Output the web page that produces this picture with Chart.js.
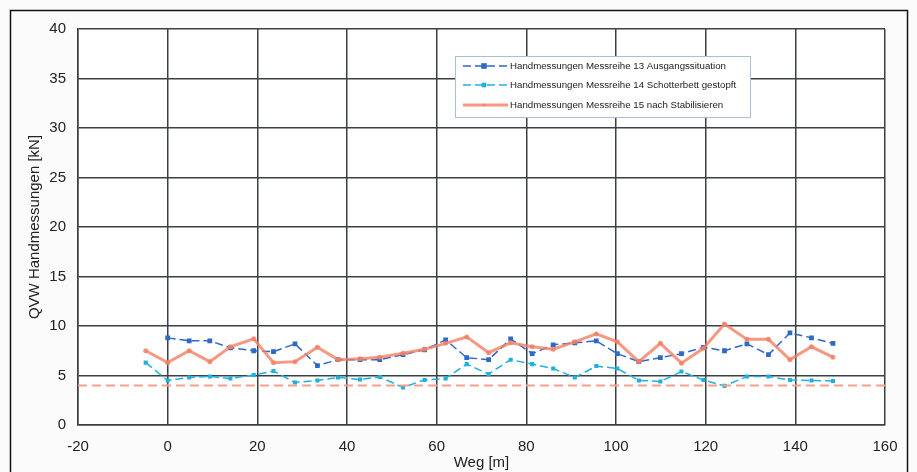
<!DOCTYPE html>
<html>
<head>
<meta charset="utf-8">
<script src="https://cdn.jsdelivr.net/npm/chart.js@4/dist/chart.umd.min.js"></script>
<style>
  html, body { margin: 0; padding: 0; background: #ffffff; }
  #wrap { position: relative; width: 917px; height: 472px; }
</style>
</head>
<body>
<div id="wrap"><canvas id="chart_qvw"></canvas></div>
<script>
// positions along the track (m)
var wegPos = [-4.9, 0, 4.8, 9.4, 14, 19.2, 23.6, 28.4, 33.4, 38, 42.9, 47.3, 52.5, 57.3, 62, 66.7, 71.6,
              76.5, 81.3, 86, 90.8, 95.6, 100.3, 105.1, 109.9, 114.6, 119.5, 124.2, 129.2, 134, 138.8, 143.6, 148.4];

// Messreihe 13 (starts at 0, no value at -4.9)
var reihe13 = [null, 8.8, 8.5, 8.5, 7.8, 7.5, 7.4, 8.2, 6.0, 6.6, 6.6, 6.6, 7.1, 7.6, 8.6, 6.8, 6.6,
               8.7, 7.2, 8.1, 8.3, 8.5, 7.2, 6.4, 6.8, 7.2, 7.85, 7.5, 8.2, 7.1, 9.3, 8.8, 8.25];
// Messreihe 14
var reihe14 = [6.3, 4.5, 4.8, 4.9, 4.7, 5.05, 5.45, 4.3, 4.5, 4.8, 4.6, 4.85, 3.8, 4.55, 4.7, 6.15, 5.15,
               6.6, 6.15, 5.7, 4.8, 5.95, 5.7, 4.5, 4.4, 5.4, 4.55, 3.95, 4.9, 4.9, 4.55, 4.5, 4.45];
// Messreihe 15
var reihe15 = [7.5, 6.3, 7.5, 6.4, 7.9, 8.7, 6.3, 6.4, 7.85, 6.6, 6.7, 6.85, 7.25, 7.65, 8.25, 8.9, 7.3,
               8.3, 7.9, 7.65, 8.4, 9.2, 8.4, 6.4, 8.25, 6.25, 7.75, 10.2, 8.65, 8.65, 6.6, 7.9, 6.85];

// limit line
var grenzX = [-20, 160];
var grenzY = [4, 4];

var legendLabels = [
    'Handmessungen Messreihe 13 Ausgangssituation',
    'Handmessungen Messreihe 14 Schotterbett gestopft',
    'Handmessungen Messreihe 15 nach Stabilisieren'
];

function toPoints(xs, ys) {
    var pts = [];
    for (var i = 0; i < xs.length; i++) {
        if (ys[i] !== null) pts.push({x: xs[i], y: ys[i]});
    }
    return pts;
}

var FONT = '"Liberation Sans", Arial, sans-serif';
var GRID = '#3a4145';

var chart_qvw = new Chart(document.getElementById('chart_qvw'), {
    type: 'line',
    data: {
        datasets: [
            {
                label: 'Grenzwert',
                data: toPoints(grenzX, grenzY),
                borderColor: '#f7a08a',
                borderWidth: 2,
                borderDash: [9, 5],
                pointRadius: 0
            },
            {
                label: legendLabels[2],
                data: toPoints(wegPos, reihe15),
                borderColor: 'rgba(242,128,100,0.8)',
                backgroundColor: 'rgba(242,128,100,0.8)',
                borderWidth: 3,
                pointRadius: 1,
                pointStyle: 'circle'
            },
            {
                label: legendLabels[1],
                data: toPoints(wegPos, reihe14),
                borderColor: '#1fb0e2',
                backgroundColor: '#1fb0e2',
                borderWidth: 1.5,
                borderDash: [8, 4],
                pointRadius: 1.8,
                pointStyle: 'rect'
            },
            {
                label: legendLabels[0],
                data: toPoints(wegPos, reihe13),
                borderColor: '#2f68c6',
                backgroundColor: '#2f68c6',
                borderWidth: 1.5,
                borderDash: [8, 4],
                pointRadius: 2.3,
                pointStyle: 'rect'
            }
        ]
    },
    options: {
        animation: false,
        responsive: true,
        maintainAspectRatio: false,
        layout: { padding: { left: 0, right: 32, top: 29, bottom: 0 } },
        plugins: {
            legend: { display: false },
            tooltip: { enabled: false }
        },
        scales: {
            x: {
                type: 'linear',
                min: -20,
                max: 160,
                ticks: {
                    stepSize: 20,
                    padding: 13,
                    color: '#222',
                    font: { family: FONT, size: 15 }
                },
                grid: { color: GRID, lineWidth: 1.5, drawTicks: false },
                border: { color: GRID, width: 1.5 },
                title: {
                    display: true,
                    text: 'Weg [m]',
                    color: '#222',
                    font: { family: FONT, size: 15 },
                    padding: { top: 0, bottom: 0 }
                },
                afterFit: function(scale) { scale.height = 47; }
            },
            y: {
                type: 'linear',
                min: 0,
                max: 40,
                ticks: {
                    stepSize: 5,
                    padding: 12,
                    color: '#222',
                    font: { family: FONT, size: 15 }
                },
                grid: { color: GRID, lineWidth: 1.5, drawTicks: false },
                border: { color: GRID, width: 1.5 },
                title: {
                    display: true,
                    text: 'QVW Handmessungen [kN]',
                    color: '#222',
                    font: { family: FONT, size: 15 },
                    padding: { top: 26, bottom: 0 }
                },
                afterFit: function(scale) { scale.width = 78; }
            }
        }
    },
    plugins: [{
        id: 'frameAndLegend',
        beforeDraw: function(chart) {
            var ctx = chart.ctx;
            ctx.save();
            ctx.fillStyle = '#fbfbfc';
            ctx.fillRect(0, 0, chart.width, chart.height);
            var a = chart.chartArea;
            ctx.fillStyle = '#ffffff';
            ctx.fillRect(a.left, a.top, a.right - a.left, a.bottom - a.top);
            ctx.strokeStyle = '#111';
            ctx.lineWidth = 1.5;
            ctx.strokeRect(10.5, 10.5, 897, 480);
            ctx.restore();
        },
        afterDraw: function(chart) {
            var ctx = chart.ctx;
            ctx.save();
            ctx.fillStyle = '#ffffff';
            ctx.fillRect(455, 56, 295, 61);
            ctx.strokeStyle = '#a6c3d6';
            ctx.lineWidth = 1;
            ctx.strokeRect(455.5, 56.5, 295, 61);
            var rows = [66, 85, 105];
            var order = [3, 2, 1];
            for (var i = 0; i < order.length; i++) {
                var ds = chart.data.datasets[order[i]];
                var y = rows[i];
                ctx.strokeStyle = ds.borderColor;
                ctx.lineWidth = ds.borderWidth;
                ctx.setLineDash(ds.borderDash || []);
                ctx.beginPath();
                ctx.moveTo(463, y);
                ctx.lineTo(508, y);
                ctx.stroke();
                ctx.setLineDash([]);
                ctx.fillStyle = ds.backgroundColor;
                var r = ds.pointRadius + 0.5;
                if (ds.pointStyle === 'rect') {
                    ctx.fillRect(484 - r, y - r, 2 * r, 2 * r);
                } else {
                    ctx.beginPath();
                    ctx.arc(484, y, r, 0, Math.PI * 2);
                    ctx.fill();
                }
                ctx.fillStyle = '#222';
                ctx.font = '9.7px ' + FONT;
                ctx.textBaseline = 'middle';
                ctx.textAlign = 'left';
                ctx.fillText(ds.label, 510, y);
            }
            ctx.restore();
        }
    }]
});
</script>
</body>
</html>
